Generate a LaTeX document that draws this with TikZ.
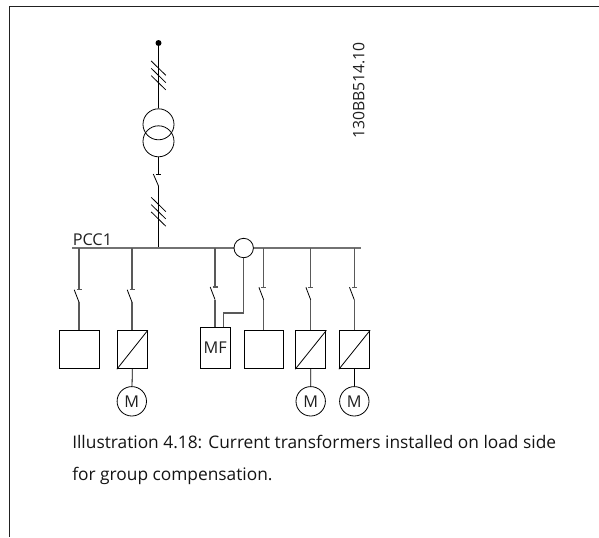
\documentclass[tikz,border=0pt]{standalone}
\usepackage{fontspec}
\setmainfont{Open Sans}
\definecolor{ink}{gray}{0.13}
\definecolor{wire}{gray}{0.35}
\tikzset{
  px/.style={x=0.75pt,y=-0.75pt},
  frameline/.style={draw=ink,line width=0.9pt},
  busline/.style={draw=wire!85!white,line width=1.3pt},
  wireline/.style={draw=wire,line width=0.8pt},
  thin wire/.style={draw=black,line width=0.6pt},
  boxnode/.style={draw=black,line width=0.7pt,fill=white,minimum width=#1*0.75pt,minimum height=28.5pt,inner sep=0pt,anchor=north},
  ring/.style={circle,draw=black,line width=0.6pt,inner sep=0pt,minimum size=#1*0.75pt},
  label/.style={inner sep=0pt,text=black!88,font=\fontsize{12.2pt}{14pt}\selectfont},
  codelabel/.style={inner sep=0pt,text=black!88,font=\fontsize{11.8pt}{14pt}\selectfont},
  caption/.style={inner sep=0pt,text=black!92,font=\fontsize{13pt}{15pt}\selectfont},
}
\newcommand{\slashes}[2]{%
  \foreach \d in {0,7.3,14.6}{\draw[thin wire] (#1-7.3,#2+\d) -- (#1+7.3,#2+14.3+\d);}}
\newcommand{\brk}[3]{% x, y of T bar, foot of the branch
  \draw[wireline] (#1,248) -- (#1,#2);
  \draw[wireline] (#1-2.5,#2) -- (#1+2.5,#2);
  \draw[thin wire] (#1-4.8,#2) -- (#1,#2+12.5);
  \draw[wireline] (#1,#2+12.5) -- (#1,#3);
}
\begin{document}
\begin{tikzpicture}[px]
\useasboundingbox (0,0) rectangle (599,537);
\draw[frameline] (599,6.5) -- (9.5,6.5) -- (9.5,537);
% incoming feeder
\node[circle,fill=black,inner sep=0pt,minimum size=4.5pt] (dot) at (158.5,43) {};
\node[ring=31] (t1) at (158.5,124.3) {};
\node[ring=31] (t2) at (158.5,141.3) {};
\coordinate (tbar) at (158.5,174);
\coordinate (sw) at (158.5,186);
\coordinate (busin) at (158.5,248);
\draw[thin wire] (dot) -- (t1);
\draw[thin wire] (t2) -- (tbar);
\draw[thin wire] (155.8,174) -- (161.2,174);
\draw[thin wire] (153.3,174) -- (sw);
\draw[thin wire] (sw) -- (busin);
\slashes{158.5}{61}
\slashes{158.5}{197.3}
% bus
\draw[busline] (72,248) -- (361,248);
\node[ring=19.4,fill=white] (ct) at (243.7,248) {};
\node[label,anchor=base west] (pcc) at (72.5,245) {PCC1};
\node[codelabel,rotate=90,anchor=base west] (code) at (364.3,139) {130BB514.10};
% boxes
\node[boxnode=40] (b1) at (79.3,330.3) {};
\node[boxnode=30] (b2) at (132.3,330.3) {};
\node[boxnode=30,minimum height=31.2pt,label] (mf) at (215.2,326.7) {MF};
\node[boxnode=39.4] (b4) at (264,330.3) {};
\node[boxnode=30.3] (b5) at (310.8,330.3) {};
\node[boxnode=30.3] (b6) at (354.5,330.3) {};
\foreach \n in {b2,b5,b6}{\draw[thin wire] (\n.south west) -- (\n.north east);}
% branches
\brk{79}{289.7}{330.3}
\brk{132}{289.7}{330.3}
\brk{215}{287}{326.7}
\brk{263.7}{287.3}{330.3}
\brk{310.7}{287.3}{330.3}
\brk{354.3}{287.3}{330.3}
% CT wire
\draw[wireline] (ct.south) |- (223.3,313) -- (223.3,326.7);
% motors
\node[ring=29.4,label] (m1) at (131.8,401.3) {M};
\node[ring=29.4,label] (m2) at (310.7,401.3) {M};
\node[ring=29.4,label] (m3) at (354.3,401.3) {M};
\draw[thin wire] (b2.south) -- (m1);
\draw[thin wire] (b5.south) -- (m2);
\draw[thin wire] (b6.south) -- (m3);
% caption
\node[caption,anchor=base west] (cap1) at (72,448) {Illustration 4.18: Current transformers installed on load side};
\node[caption,anchor=base west] (cap2) at (72,480) {for group compensation.};
\end{tikzpicture}
\end{document}
